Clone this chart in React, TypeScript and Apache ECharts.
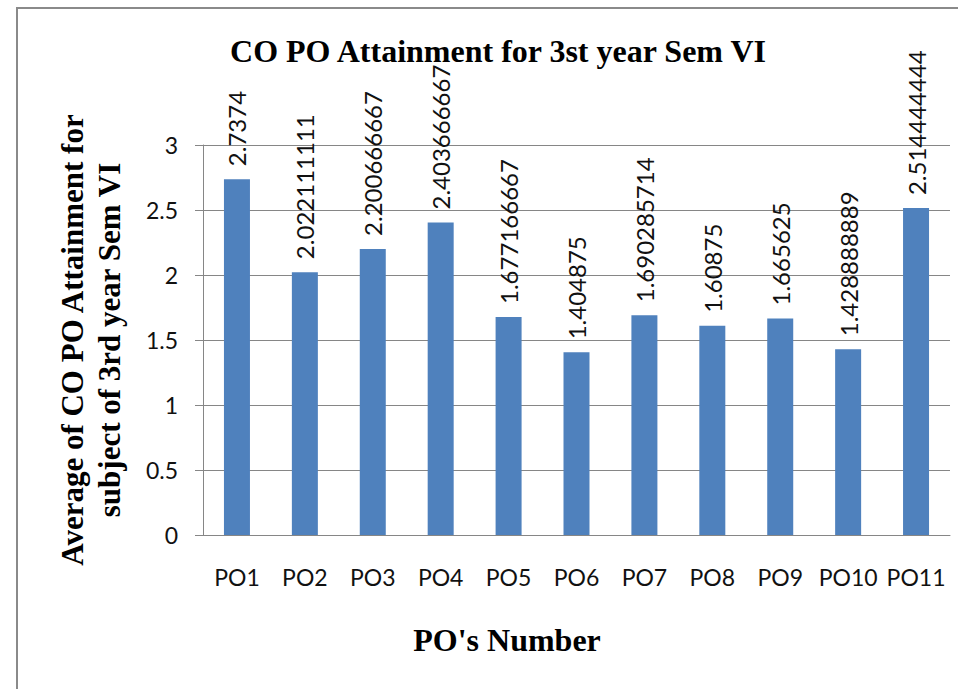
import React, { useEffect, useRef } from "react";
import * as echarts from "echarts";

const categories: string[] = ["PO1", "PO2", "PO3", "PO4", "PO5", "PO6", "PO7", "PO8", "PO9", "PO10", "PO11"];
const values: number[] = [2.7374, 2.022111111, 2.200666667, 2.403666667, 1.677166667, 1.404875, 1.690285714, 1.60875, 1.665625, 1.428888889, 2.514444444];
const yTicks: number[] = [0, 0.5, 1, 1.5, 2, 2.5, 3];

const titleText = "CO PO Attainment for 3st year Sem VI";
const yName = "Average of CO PO Attainment for\nsubject of 3rd year Sem VI";
const xName = "PO's Number";

const serif = "'Liberation Serif', 'Times New Roman', serif";
const sans = "Lato, 'Open Sans', sans-serif";

export default function App() {
  const ref = useRef<HTMLDivElement>(null);
  useEffect(() => {
    if (!ref.current) return;
    const chart = echarts.init(ref.current, null, { renderer: "svg" });
    chart.setOption({
      animation: false,
      backgroundColor: "#ffffff",
      title: {
        text: titleText,
        left: 493,
        top: 30,
        textAlign: "center",
        textStyle: { fontFamily: serif, fontWeight: "bold", fontSize: 32, color: "#000" },
      },
      grid: { left: 203, right: 8, top: 145, bottom: 154, containLabel: false },
      xAxis: {
        type: "category",
        data: categories,
        axisLine: { show: true, lineStyle: { color: "#868686", width: 1 } },
        axisTick: { show: false },
        axisLabel: { fontFamily: sans, fontSize: 23, color: "#111", margin: 30, interval: 0 },
      },
      yAxis: {
        type: "value",
        min: yTicks[0],
        max: yTicks[yTicks.length - 1],
        interval: 0.5,
        name: yName,
        nameLocation: "middle",
        nameRotate: 90,
        nameGap: 75,
        nameTextStyle: { fontFamily: serif, fontWeight: "bold", fontSize: 31, lineHeight: 37, color: "#000" },
        axisLine: { show: true, lineStyle: { color: "#868686", width: 1 } },
        axisTick: { show: true, inside: false, length: 8, lineStyle: { color: "#868686" } },
        splitLine: { show: true, lineStyle: { color: "#868686", width: 1 } },
        axisLabel: { fontFamily: sans, fontSize: 23, color: "#111", margin: 25 },
      },
      graphic: [
        {
          type: "rect",
          shape: { x: 17, y: 8, width: 960, height: 700 },
          style: { fill: "none", stroke: "#8a8a8a", lineWidth: 2 },
          silent: true,
        },
        {
          type: "text",
          x: 507,
          y: 640,
          style: {
            text: xName,
            font: `bold 32px ${serif}`,
            fill: "#000",
            align: "center",
            verticalAlign: "middle",
          },
        },
      ],
      series: [
        {
          type: "bar",
          data: values,
          barWidth: 26,
          itemStyle: { color: "#4F81BD" },
          label: {
            show: true,
            position: "top",
            rotate: 90,
            align: "left",
            verticalAlign: "middle",
            distance: 13,
            fontFamily: sans,
            fontSize: 24,
            color: "#111",
            formatter: (p: any) => String(p.value),
          },
        },
      ],
    });
    return () => chart.dispose();
  }, []);
  return <div ref={ref} style={{ position: "absolute", left: 0, top: 0, width: 958, height: 689 }} />;
}
